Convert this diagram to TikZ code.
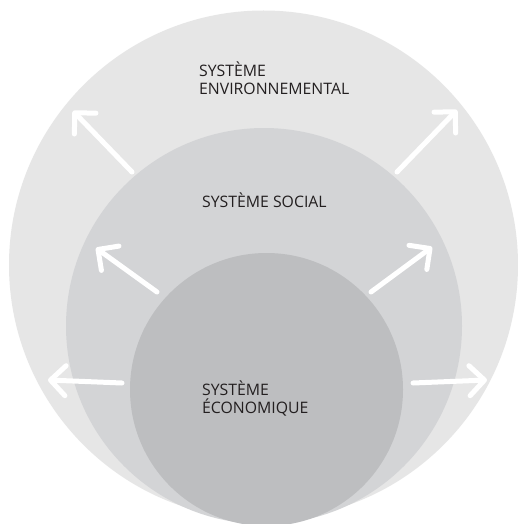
\documentclass[tikz,border=0pt]{standalone}
\usepackage{fontspec}
\setmainfont{Open Sans}
\usetikzlibrary{arrows.meta}
\definecolor{envgray}{HTML}{E6E6E6}
\definecolor{socgray}{HTML}{D3D4D6}
\definecolor{ecogray}{HTML}{BDBEC0}
\definecolor{txtgray}{HTML}{231F20}
\tikzset{sphere/.style={circle, inner sep=0pt, draw=none},
label text/.style={anchor=base west, align=left, text=txtgray, font=\fontsize{15.8}{18}\selectfont, inner sep=0pt},
outward/.style={white, line width=5pt, line cap=round, -{Straight Barb[length=15pt, width=30pt, line cap=round, line join=round]}}}

\begin{document}
\begin{tikzpicture}[x=1pt,y=-1pt]
\useasboundingbox (0,0) rectangle (518,524);
\clip (0,0) rectangle (518,524);
\fill[white] (0,0) rectangle (518,524);
\node[sphere, fill=envgray, minimum size=509pt] (env) at (263.5,265) {};
\node[sphere, fill=socgray, minimum size=396pt] (soc) at (264,326) {};
\node[sphere, fill=ecogray, minimum size=273pt] (eco) at (266.5,389.5) {};
\node[label text] (envtxt) at (199,95) {SYSTÈME\\ENVIRONNEMENTAL};
\node[label text] (soctxt) at (202,207) {SYSTÈME SOCIAL};
\node[label text] (ecotxt) at (202,413) {SYSTÈME\\ÉCONOMIQUE};
% arrows from each circle outwards
\foreach \n/\xs/\ys/\xe/\ye in {ul/132/172/73/111, ur/397/172/457/110, ml/157/292/96/248, mr/371/292/432/247, ll/122/383/48/380, lr/413/383/487/380}{
\coordinate (\n s) at (\xs,\ys);
\coordinate (\n e) at (\xe,\ye);
\draw[outward] (\n s) -- (\n e);
}
\end{tikzpicture}
\end{document}
